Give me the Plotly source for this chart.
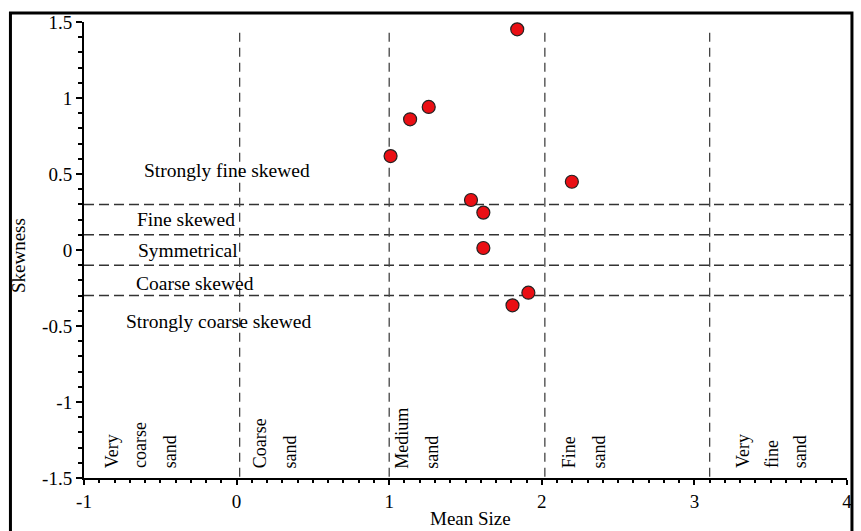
import plotly.graph_objects as go

# Data
mean_size = [1.839, 1.137, 1.259, 1.009, 2.197, 1.536, 1.617, 1.617, 1.912, 1.808]
skewness = [1.452, 0.860, 0.941, 0.618, 0.449, 0.329, 0.246, 0.013, -0.281, -0.364]

skew_bounds = [0.3, 0.1, -0.1, -0.3]
size_bounds = [0.02, 1.0, 2.02, 3.1]

skew_labels = ["Strongly fine skewed", "Fine skewed", "Symmetrical", "Coarse skewed", "Strongly coarse skewed"]
skew_label_x = [-0.06, -0.33, -0.32, -0.27, -0.12]
skew_label_y = [0.52, 0.20, 0.0, -0.22, -0.47]

size_words = ["Very", "coarse", "sand", "Coarse", "sand", "Medium", "sand", "Fine", "sand", "Very", "fine", "sand"]
size_word_x = [-0.811, -0.629, -0.44, 0.159, 0.348, 1.083, 1.279, 2.184, 2.372, 3.323, 3.512, 3.694]

FONT = "Liberation Serif"

fig = go.Figure()
fig.add_trace(go.Scatter(
    x=mean_size, y=skewness, mode="markers",
    marker=dict(size=13, color="#ea0f14", line=dict(color="#222", width=1.2)),
    showlegend=False, cliponaxis=False,
))

shapes = []
for b in skew_bounds:
    shapes.append(dict(type="line", xref="paper", yref="y", x0=0, x1=1.0065, y0=b, y1=b,
                       line=dict(color="#333", width=1.5, dash="10px,5px"), layer="below"))
for b in size_bounds:
    shapes.append(dict(type="line", xref="x", yref="y", x0=b, x1=b, y0=1.43, y1=-1.5,
                       line=dict(color="#444", width=1.3, dash="9px,6px"), layer="below"))
# outer frame
shapes.append(dict(type="rect", xref="paper", yref="paper", x0=-0.0964, x1=1.0065, y0=-0.3, y1=1.0197,
                   line=dict(color="black", width=3), layer="above"))

annotations = []
for t, x, y in zip(skew_labels, skew_label_x, skew_label_y):
    annotations.append(dict(text=t, x=x, y=y, xref="x", yref="y", showarrow=False,
                            font=dict(family=FONT, size=19.5, color="black"),
                            xanchor="center", yanchor="middle"))
for t, x in zip(size_words, size_word_x):
    annotations.append(dict(text=t, x=x, y=-1.45, xref="x", yref="y", showarrow=False,
                            textangle=-90, font=dict(family=FONT, size=18, color="black"),
                            xanchor="center", yanchor="bottom"))
annotations.append(dict(text="Mean Size", x=0.5065, y=-0.088, xref="paper", yref="paper",
                        showarrow=False, font=dict(family=FONT, size=19, color="black"),
                        xanchor="center", yanchor="middle"))
annotations.append(dict(text="Skewness", x=-0.085, y=0.487, xref="paper", yref="paper",
                        showarrow=False, textangle=-90, font=dict(family=FONT, size=19, color="black"),
                        xanchor="center", yanchor="middle"))

fig.update_layout(
    width=861, height=531,
    margin=dict(l=84, r=9, t=22, b=53),
    plot_bgcolor="white", paper_bgcolor="white",
    shapes=shapes, annotations=annotations,
    xaxis=dict(range=[-1, 4], tickvals=[-1, 0, 1, 2, 3, 4], ticktext=["-1", "0", "1", "2", "3", "4"],
               showgrid=False, zeroline=False, showline=True, linecolor="black", linewidth=2,
               ticks="outside", ticklen=5, tickwidth=2, tickcolor="black",
               minor=dict(dtick=0.1, ticks="outside", ticklen=3, tickwidth=2, tickcolor="black"),
               tickfont=dict(family=FONT, size=19, color="black")),
    yaxis=dict(range=[-1.5, 1.5], tickvals=[-1.5, -1, -0.5, 0, 0.5, 1, 1.5],
               ticktext=["-1.5", "-1", "-0.5", "0", "0.5", "1", "1.5"],
               showgrid=False, zeroline=False, showline=True, linecolor="black", linewidth=2,
               ticks="outside", ticklen=6, tickwidth=2, tickcolor="black",
               minor=dict(dtick=0.1, ticks="outside", ticklen=4, tickwidth=2, tickcolor="black"),
               tickfont=dict(family=FONT, size=19, color="black")),
)

fig.write_html("out.html", config={"displayModeBar": False},
               post_script="document.body.style.margin='0px';")
